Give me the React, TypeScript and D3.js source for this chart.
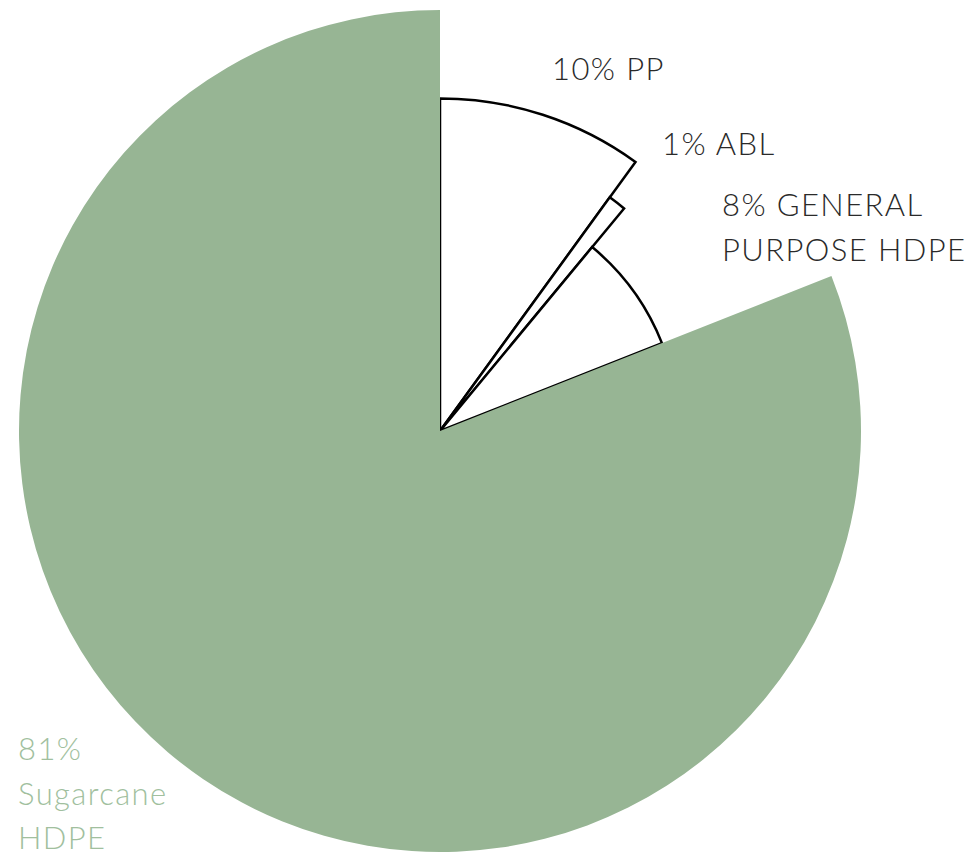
import React from "react";
import * as d3 from "d3";

const categories = ["PP", "ABL", "GENERAL PURPOSE HDPE", "Sugarcane HDPE"];
const values = [10, 1, 8, 81];
const radiusShares = [0.79, 0.686, 0.567, 1];
const labelLines = [["10% PP"], ["1% ABL"], ["8% GENERAL", "PURPOSE HDPE"], ["81%", "Sugarcane", "HDPE"]];

const W = 970;
const H = 857;
const cx = 440;
const cy = 431;
const R = 421;

const labelPos = [
  { x: 552, y: 80, fill: "#2a2a2a" },
  { x: 662, y: 155, fill: "#2a2a2a" },
  { x: 722, y: 216, fill: "#2a2a2a" },
  { x: 18, y: 760, fill: "#a1bf9e" },
];

export default function App() {
  const pie = d3.pie<number>().sort(null).value((d) => d);
  const arcs = pie(values);
  const rScale = d3.scaleLinear().domain([0, 1]).range([0, R]);
  const arcGen = d3.arc<d3.PieArcDatum<number>>().innerRadius(0);

  return (
    <svg width={W} height={H} style={{ position: "absolute", left: 0, top: 0 }}>
      <g transform={`translate(${cx},${cy})`}>
        {arcs.map((a, i) => {
          const green = i === 3;
          const d = arcGen.outerRadius(rScale(radiusShares[i]))(a) || "";
          return (
            <path
              key={categories[i]}
              d={d}
              fill={green ? "#97b594" : "#ffffff"}
              stroke={green ? "none" : "#000"}
              strokeWidth={green ? 0 : 2.5}
              strokeLinejoin="miter"
            />
          );
        })}
      </g>
      {labelLines.map((lines, i) => (
        <text
          key={categories[i]}
          x={labelPos[i].x}
          y={labelPos[i].y}
          fill={labelPos[i].fill}
          fontFamily="Lato, sans-serif"
          fontWeight={300}
          fontSize={31}
          letterSpacing={1.4}
        >
          {lines.map((l, j) => (
            <tspan key={j} x={labelPos[i].x} dy={j === 0 ? 0 : 44.5}>
              {l}
            </tspan>
          ))}
        </text>
      ))}
    </svg>
  );
}
